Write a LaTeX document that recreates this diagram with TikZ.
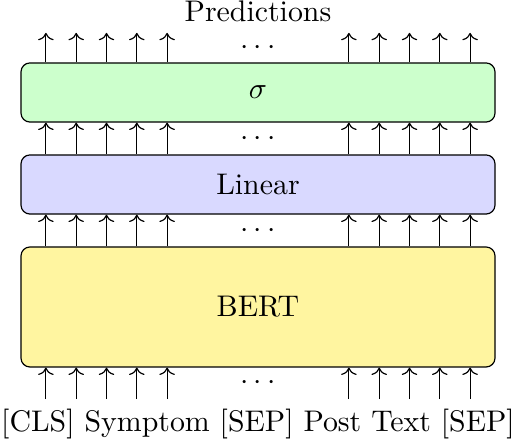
\documentclass[tikz,border=0pt]{standalone}
\usepackage{xcolor}
\usepackage{tikz}
\usetikzlibrary{arrows.meta, positioning}
\definecolor{sigmagreen}{RGB}{204,255,204}
\definecolor{linearblue}{RGB}{217,217,255}
\definecolor{bertyellow}{RGB}{255,245,160}
\tikzset{
  layer/.style   = {rectangle, draw, rounded corners=3pt,
                    minimum width=158.8pt, inner sep=0pt},
  thinlayer/.style = {layer, minimum height=19.8pt},
  arrow/.style   = {->}
}

\begin{document}
\begin{tikzpicture}[x=0.335pt, y=0.335pt]
  \useasboundingbox (0,0) rectangle (516,440);
  % layers
  \node[thinlayer, fill=sigmagreen] (sigma) at (258,347.5) {$\sigma$};
  \node[thinlayer, fill=linearblue] (linear) at (258,255.5) {Linear};
  \node[layer, fill=bertyellow, minimum height=40.2pt] (bert) at (258,133) {BERT};
  % input and output texts
  \node[anchor=base] (preds) at (258,418) {Predictions};
  \node[anchor=base] (tokens) at (258,8) {[CLS] Symptom [SEP] Post Text [SEP]};
  % dots between the arrow groups
  \node (dotsout) at (258,392.5) {$\cdots$};
  \node (dotssig) at (258,301.5) {$\cdots$};
  \node (dotslin) at (258,209.5) {$\cdots$};
  \node (dotsin) at (258,57.5) {$\cdots$};
  % arrows
  \foreach \i in {-7,-6,-5,-4,-3,3,4,5,6,7} {
    \coordinate (c\i) at ({258+30.3*\i},0);
    \draw[arrow] (tokens.north -| c\i) -- (bert.south -| c\i);
    \draw[arrow] (bert.north -| c\i) -- (linear.south -| c\i);
    \draw[arrow] (linear.north -| c\i) -- (sigma.south -| c\i);
    \draw[arrow] (sigma.north -| c\i) -- (preds.south -| c\i);
  }
\end{tikzpicture}
\end{document}
